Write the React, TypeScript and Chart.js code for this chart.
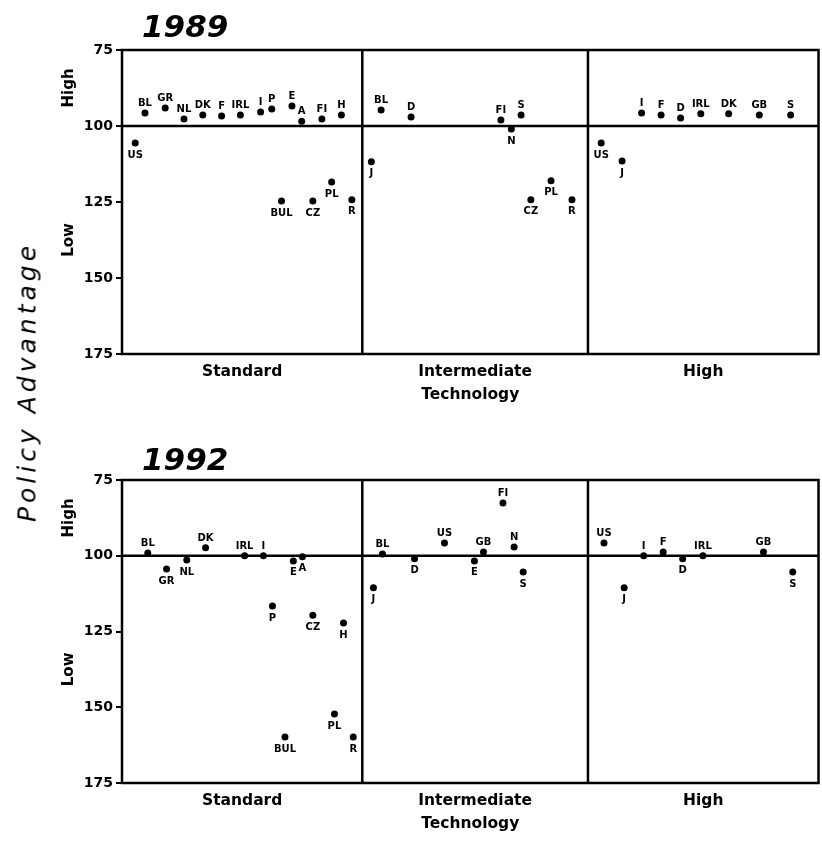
import React, { useEffect, useRef } from "react";
import { Chart, registerables } from "chart.js";

Chart.register(...registerables);

// ---------- data ----------
const panelYears = ["1989", "1992"];
const sectionLabels = ["Standard", "Intermediate", "High"];
const sectionBounds = [0, 34.5, 66.9, 100]; // position scale, section edges
const yTicks = [75, 100, 125, 150, 175];
const bandLabels = ["High", "Low"];
const bandCenters = [87.5, 137.5];
const baselineValue = 100;
const axisTitle = "Technology";
const sideTitle = "Policy Advantage";

// 1989
const countries1989 = [
  "US", "BL", "GR", "NL", "DK", "F", "IRL", "I", "P", "BUL", "E", "A", "CZ", "FI", "PL", "H", "R",
  "J", "BL", "D", "FI", "N", "S", "CZ", "PL", "R",
  "US", "J", "I", "F", "D", "IRL", "DK", "GB", "S",
];
const positions1989 = [
  1.9, 3.3, 6.2, 8.9, 11.6, 14.3, 17.0, 19.9, 21.5, 22.9, 24.4, 25.8, 27.4, 28.7, 30.1, 31.5, 33.0,
  35.8, 37.2, 41.5, 54.4, 55.9, 57.3, 58.7, 61.6, 64.6,
  68.8, 71.8, 74.6, 77.4, 80.2, 83.1, 87.1, 91.5, 96.0,
];
const values1989 = [
  105.6, 95.7, 94.1, 97.7, 96.4, 96.7, 96.4, 95.4, 94.4, 124.7, 93.4, 98.4, 124.7, 97.7, 118.4, 96.4, 124.3,
  111.8, 94.7, 97.0, 98.0, 101.0, 96.4, 124.3, 118.0, 124.3,
  105.6, 111.5, 95.7, 96.4, 97.4, 96.0, 96.0, 96.4, 96.4,
];
const labelSide1989 = [
  "b", "a", "a", "a", "a", "a", "a", "a", "a", "b", "a", "a", "b", "a", "b", "a", "b",
  "b", "a", "a", "a", "b", "a", "b", "b", "b",
  "b", "b", "a", "a", "a", "a", "a", "a", "a",
];

// 1992
const countries1992 = [
  "BL", "GR", "NL", "DK", "IRL", "I", "P", "BUL", "E", "A", "CZ", "PL", "H", "R",
  "J", "BL", "D", "US", "E", "GB", "FI", "N", "S",
  "US", "J", "I", "F", "D", "IRL", "GB", "S",
];
const positions1992 = [
  3.7, 6.4, 9.3, 12.0, 17.6, 20.3, 21.6, 23.4, 24.6, 25.9, 27.4, 30.5, 31.8, 33.2,
  36.1, 37.4, 42.0, 46.3, 50.6, 51.9, 54.7, 56.3, 57.6,
  69.2, 72.1, 74.9, 77.7, 80.5, 83.4, 92.1, 96.3,
];
const values1992 = [
  99.1, 104.4, 101.4, 97.4, 100.0, 100.0, 116.6, 159.8, 101.7, 100.3, 119.6, 152.2, 122.2, 159.8,
  110.6, 99.4, 101.0, 95.8, 101.7, 98.8, 82.6, 97.1, 105.4,
  95.8, 110.6, 100.0, 98.8, 101.0, 100.0, 98.8, 105.4,
];
const labelSide1992 = [
  "a", "b", "b", "a", "a", "a", "b", "b", "b", "b", "b", "b", "b", "b",
  "b", "a", "b", "a", "b", "a", "a", "a", "b",
  "a", "b", "a", "a", "b", "a", "a", "b",
];

const FONT = '"DejaVu Sans", "Liberation Sans", sans-serif';

type PanelProps = {
  year: string;
  countries: string[];
  positions: number[];
  values: number[];
  sides: string[];
  top: number;
  padTop: number;
  areaH: number;
  titleBaseline: number;
};

const X_AXIS_H = 56;

function Panel(p: PanelProps) {
  const ref = useRef<HTMLCanvasElement | null>(null);
  const canvasH = p.padTop + p.areaH + X_AXIS_H;

  useEffect(() => {
    if (!ref.current) return;
    const centers = sectionLabels.map((_, i) => (sectionBounds[i] + sectionBounds[i + 1]) / 2);

    const decor = {
      id: "decor",
      beforeDatasetsDraw(chart: any) {
        const { ctx, chartArea: a } = chart;
        const x = chart.scales.x;
        const y = chart.scales.y;
        ctx.save();
        ctx.strokeStyle = "#000";
        ctx.lineWidth = 2.5;
        ctx.beginPath();
        [sectionBounds[1], sectionBounds[2]].forEach((b) => {
          const px = x.getPixelForValue(b);
          ctx.moveTo(px, a.top);
          ctx.lineTo(px, a.bottom);
        });
        const py = y.getPixelForValue(baselineValue);
        ctx.moveTo(a.left, py);
        ctx.lineTo(a.right, py);
        ctx.stroke();
        ctx.strokeRect(a.left, a.top, a.right - a.left, a.bottom - a.top);

        ctx.fillStyle = "#000";
        ctx.font = `bold 15px ${FONT}`;
        ctx.textAlign = "center";
        ctx.textBaseline = "middle";
        bandLabels.forEach((t, i) => {
          const cy = y.getPixelForValue(bandCenters[i]);
          ctx.save();
          ctx.translate(a.left - 53, cy);
          ctx.rotate(-Math.PI / 2);
          ctx.fillText(t, 0, 0);
          ctx.restore();
        });

        ctx.font = `italic bold 31px ${FONT}`;
        ctx.textAlign = "left";
        ctx.textBaseline = "alphabetic";
        ctx.fillText(p.year, a.left + 20, p.titleBaseline);
        ctx.restore();
      },
      afterDatasetsDraw(chart: any) {
        const { ctx } = chart;
        const meta = chart.getDatasetMeta(0);
        ctx.save();
        ctx.fillStyle = "#000";
        ctx.font = `bold 10px ${FONT}`;
        ctx.textAlign = "center";
        ctx.textBaseline = "middle";
        meta.data.forEach((el: any, i: number) => {
          const dy = p.sides[i] === "a" ? -9.5 : 12;
          ctx.fillText(p.countries[i], el.x, el.y + dy);
        });
        ctx.restore();
      },
    };

    const chart = new Chart(ref.current, {
      type: "scatter",
      data: {
        datasets: [
          {
            data: p.positions.map((x, i) => ({ x, y: p.values[i] })),
            pointRadius: 3.5,
            pointHoverRadius: 3.5,
            backgroundColor: "#000",
            borderColor: "#000",
            borderWidth: 0,
          },
        ],
      },
      options: {
        responsive: false,
        animation: false,
        devicePixelRatio: 1,
        layout: { padding: { top: p.padTop, right: 2, left: 0, bottom: 0 } },
        plugins: { legend: { display: false }, tooltip: { enabled: false }, title: { display: false } },
        scales: {
          x: {
            type: "linear",
            min: sectionBounds[0],
            max: sectionBounds[3],
            afterBuildTicks: (s: any) => {
              s.ticks = centers.map((v) => ({ value: v }));
            },
            afterFit: (s: any) => {
              s.height = X_AXIS_H;
            },
            ticks: {
              autoSkip: false,
              maxRotation: 0,
              padding: 9,
              color: "#000",
              font: { family: FONT, size: 15.5, weight: "bold" },
              callback: (_v: any, i: number) => sectionLabels[i],
            },
            grid: { display: false, drawTicks: false },
            border: { display: false },
            title: {
              display: true,
              text: axisTitle,
              color: "#000",
              font: { family: FONT, size: 15.5, weight: "bold" },
              padding: { top: 0, bottom: 6 },
            },
          },
          y: {
            type: "linear",
            reverse: true,
            min: yTicks[0],
            max: yTicks[yTicks.length - 1],
            afterBuildTicks: (s: any) => {
              s.ticks = yTicks.map((v) => ({ value: v }));
            },
            afterFit: (s: any) => {
              s.width = 122;
            },
            ticks: {
              padding: 3,
              color: "#000",
              font: { family: FONT, size: 14, weight: "bold" },
            },
            grid: { drawOnChartArea: false, drawTicks: true, tickLength: 6, color: "#000", lineWidth: 2 },
            border: { display: false },
          },
        },
      },
      plugins: [decor],
    } as any);
    return () => chart.destroy();
  }, []);

  return (
    <canvas
      ref={ref}
      width={822}
      height={canvasH}
      style={{ position: "absolute", left: 0, top: p.top, width: 822, height: canvasH }}
    />
  );
}

export default function App() {
  return (
    <div style={{ position: "absolute", left: 0, top: 0, width: 822, height: 844, background: "#fff", overflow: "hidden" }}>
      <Panel
        year={panelYears[0]}
        countries={countries1989}
        positions={positions1989}
        values={values1989}
        sides={labelSide1989}
        top={0}
        padTop={50}
        areaH={304}
        titleBaseline={37}
      />
      <Panel
        year={panelYears[1]}
        countries={countries1992}
        positions={positions1992}
        values={values1992}
        sides={labelSide1992}
        top={428}
        padTop={52}
        areaH={303}
        titleBaseline={42}
      />
      <div
        style={{
          position: "absolute",
          left: 27,
          top: 382,
          transform: "translate(-50%, -50%) rotate(-90deg)",
          whiteSpace: "nowrap",
          fontFamily: FONT,
          fontStyle: "italic",
          fontSize: 25,
          letterSpacing: 4,
          color: "#000",
          lineHeight: 1,
        }}
      >
        {sideTitle}
      </div>
    </div>
  );
}
